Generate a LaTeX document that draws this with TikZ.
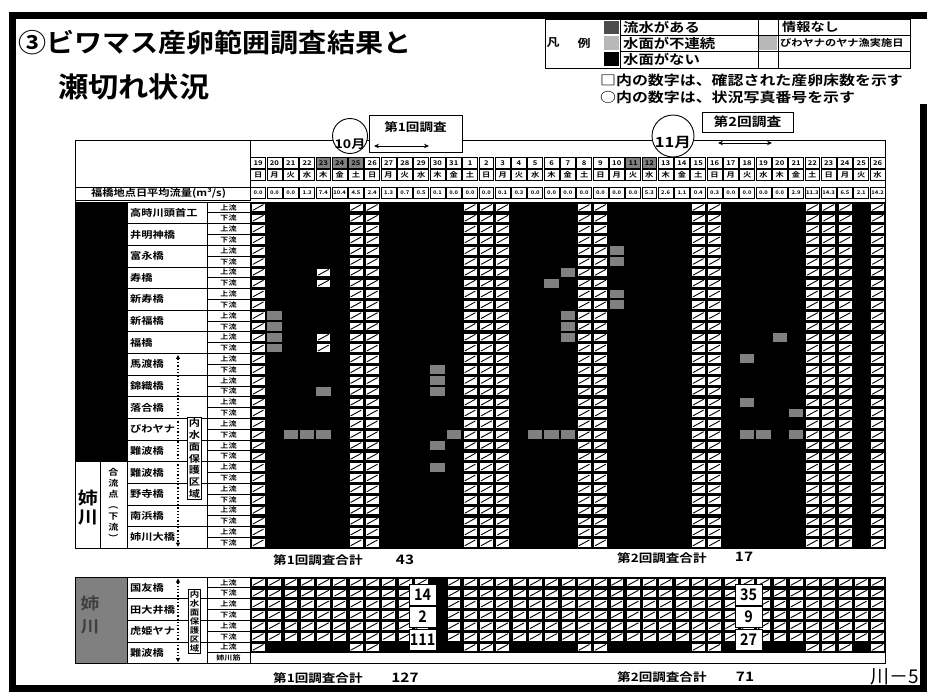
\documentclass[tikz,border=0pt]{standalone}
\usepackage{fontspec}
\setmainfont{Noto Sans CJK JP}[BoldFont={Noto Sans CJK JP Bold}, FakeStretch=1.18]
\newfontfamily\ttlfont{Noto Sans CJK JP Bold}[FakeStretch=1.08]
\newfontfamily\numfont{Noto Sans CJK JP Bold}[FakeStretch=0.9]
\newfontfamily\thinfont{Noto Sans CJK JP}
\usetikzlibrary{arrows.meta}

\definecolor{stip}{gray}{0.5}
\definecolor{stipdark}{gray}{0.3}
\definecolor{stiplight}{gray}{0.72}

\newcommand{\fsz}[1]{\bfseries\fontsize{#1}{#1}\selectfont}

% day columns and station rows
\def\colx{250}
\def\colw{16.3}
\def\colend{885.7}
\def\rowh{10.82}
\def\topA{202}
\def\topB{577}

\tikzset{
  rule/.style={draw=black, line width=0.8pt},
  hatchbox/.style={fill=white, draw=black, line width=0.6pt},
  hatchline/.style={line width=0.9pt, line cap=round},
  hdrcell/.style={draw=black, line width=0.7pt},
  ttl/.style={inner sep=0pt, anchor=west, font=\ttlfont\fontsize{26}{26}\selectfont},
  lgd/.style={inner sep=0pt, anchor=west, font=\fsz{13}},
  stn/.style={inner sep=0pt, anchor=west, font=\fsz{9.5}},
  updn/.style={inner sep=0pt, font=\fsz{6.8}},
  daynum/.style={inner sep=0pt, font=\fsz{6.5}},
  wkday/.style={inner sep=0pt, font=\fsz{7}},
  flowval/.style={inner sep=0pt, font=\fsz{5}},
  total/.style={inner sep=0pt, anchor=west, font=\fsz{11.5}},
  totnum/.style={inner sep=0pt, font=\fsz{13}},
  month/.style={circle, draw=black, fill=white, line width=0.9pt, inner sep=0pt},
  survey/.style={inner sep=0pt, font=\fsz{11.5}},
  numbox/.style={draw=black, fill=white, line width=0.8pt, inner sep=0pt,
    minimum width=27pt, minimum height=21pt, font=\numfont\fontsize{16}{16}\selectfont},
  zone/.style={dotted, line width=1.3pt,
    {Triangle[length=4pt,width=4pt]}-{Triangle[length=4pt,width=4pt]}},
  zonebox/.style={draw=black, fill=white, line width=0.8pt, inner sep=1.2pt, align=center},
  span/.style={line width=1pt,
    {Stealth[length=5pt,width=4.5pt]}-{Stealth[length=5pt,width=4.5pt]}},
}

% cell with no information (column, row, top of table)
\newcommand{\hcell}[3]{%
  \pgfmathsetmacro\hcx{\colx+#1*\colw}%
  \pgfmathsetmacro\hcy{#3+#2*\rowh}%
  \draw[hatchbox] (\hcx+1.2,\hcy+1.1) rectangle (\hcx+\colw-1.2,\hcy+\rowh-1.1);
  \draw[hatchline] (\hcx+3,\hcy+\rowh-2.6) -- (\hcx+\colw-3,\hcy+2.6);
}
% cell with broken water surface
\newcommand{\scell}[3]{%
  \pgfmathsetmacro\hcx{\colx+#1*\colw}%
  \pgfmathsetmacro\hcy{#3+#2*\rowh}%
  \fill[stip] (\hcx+1,\hcy+1) rectangle (\hcx+\colw-1,\hcy+\rowh-1);
}

\begin{document}
\begin{tikzpicture}[x=1pt,y=-1pt]
  \useasboundingbox (0,0) rectangle (927,693);

  % Frame
  \draw[line width=7pt, line join=miter] (923,104) -- (923,688) -- (12,688) -- (12,16) -- (927,16);

  % Title
  \node[ttl] (title1) at (18,43) {③ビワマス産卵範囲調査結果と};
  \node[ttl, font=\ttlfont\fontsize{28}{28}\selectfont] (title2) at (58,87) {瀬切れ状況};

  % Legend
  \draw[rule] (545,19) rectangle (910,68);
  \draw[rule] (620,19) -- (620,68) (758,19) -- (758,68) (778,19) -- (778,68);
  \draw[rule] (620,35) -- (910,35) (620,51.5) -- (910,51.5);
  \fill[stipdark] (604,21) rectangle (619,34);
  \fill[stiplight] (604,36) rectangle (619,50.5);
  \fill[black] (604,52.5) rectangle (619,66);
  \fill[stiplight] (759,36) rectangle (777,50.5);
  \node[inner sep=0pt, font=\fsz{11}] (lgA) at (553,43) {凡};
  \node[inner sep=0pt, font=\fsz{11}] (lgB) at (584,43) {例};
  \node[lgd] (lg1) at (623,27) {流水がある};
  \node[lgd] (lg2) at (623,43.2) {水面が不連続};
  \node[lgd] (lg3) at (623,59.7) {水面がない};
  \node[lgd, font=\fsz{12}] (lg4) at (782,27) {情報なし};
  \node[lgd, font=\fsz{9.5}] (lg5) at (780,43.2) {びわヤナのヤナ漁実施日};
  \node[lgd, font=\fsz{13.5}] (note1) at (600,80) {□内の数字は、確認された産卵床数を示す};
  \node[lgd, font=\fsz{13.5}] (note2) at (600,97) {○内の数字は、状況写真番号を示す};

  % Table frame and left header
  \draw[rule] (75,140) rectangle (\colend,\topA+32*\rowh);
  \draw[rule] (75,140) rectangle (\colx,187);
  \draw[rule] (75,187) rectangle (\colx,200);
  \node[inner sep=0pt, anchor=west, font=\fsz{9.5}] (qlabel) at (91,193.5) {福橋地点日平均流量(m³/s)};

  % Day header: dates, weekdays, flow at Fukuhashi
  \foreach \c in {4,5,6,23,24}{
    \fill[stip] ({\colx+\c*\colw+0.7},157.5) rectangle +(14.9,11);
  }
  \foreach \d [count=\i from 0] in {19,20,21,22,23,24,25,26,27,28,29,30,31,1,2,3,4,5,6,7,8,9,10,11,12,13,14,15,16,17,18,19,20,21,22,23,24,25,26}{
    \pgfmathsetmacro\mx{\colx+(\i+0.5)*\colw}
    \draw[hdrcell] ({\mx-7.45},157.5) rectangle +(14.9,11);
    \node[daynum] (d\i) at (\mx,163) {\d};
  }
  \foreach \w [count=\i from 0] in {日,月,火,水,木,金,土,日,月,火,水,木,金,土,日,月,火,水,木,金,土,日,月,火,水,木,金,土,日,月,火,水,木,金,土,日,月,火,水}{
    \pgfmathsetmacro\mx{\colx+(\i+0.5)*\colw}
    \draw[hdrcell] ({\mx-7.45},169.5) rectangle +(14.9,11);
    \node[wkday] (w\i) at (\mx,175) {\w};
  }
  \foreach \q [count=\i from 0] in {0.0,0.0,0.0,1.3,7.4,10.4,4.5,2.4,1.3,0.7,0.5,0.1,0.0,0.0,0.0,0.1,0.3,0.0,0.0,0.0,0.0,0.0,0.0,0.0,5.3,2.6,1.1,0.4,0.3,0.0,0.0,0.0,0.0,2.9,11.3,14.3,6.5,2.1,14.2}{
    \pgfmathsetmacro\mx{\colx+(\i+0.5)*\colw}
    \draw[hdrcell] ({\mx-7.45},187.5) rectangle +(14.9,11);
    \node[flowval] (q\i) at (\mx,193) {\q};
  }

  % Survey periods
  \node[draw=black, fill=white, line width=0.8pt, minimum width=93pt, minimum height=37pt, inner sep=0pt] (sv1box) at (415.5,133.5) {};
  \node[survey] (sv1) at (415.5,127) {第1回調査};
  \coordinate (sv1a) at (374,146);
  \coordinate (sv1b) at (429,146);
  \draw[span] (sv1a) -- (sv1b);
  \node[draw=black, fill=white, line width=0.8pt, minimum width=91pt, minimum height=20pt, inner sep=0pt] (sv2box) at (747.5,122) {};
  \node[survey, font=\fsz{12.5}] (sv2) at (747.5,122) {第2回調査};
  \coordinate (sv2a) at (718,143);
  \coordinate (sv2b) at (772,143);
  \draw[span] (sv2a) -- (sv2b);

  % Months
  \node[month, minimum size=35pt] (m10) at (350,136) {};
  \node[inner sep=0pt, font=\fsz{12}] (m10t) at (350,144) {10月};
  \node[month, minimum size=42pt] (m11) at (673,136) {};
  \node[inner sep=0pt, font=\fsz{14}] (m11t) at (673,143) {11月};

  % Main table: flowing water, then days with no information
  \fill (\colx,\topA) rectangle (\colend,\topA+32*\rowh);
  \foreach \c in {0,6,7,13,14,15,20,21,27,28,34,35,36,38}{
    \foreach \r in {0,...,31}{\hcell{\c}{\r}{\topA}}
  }
  \foreach \c/\r in {4/6,4/7,4/12,4/13}{\hcell{\c}{\r}{\topA}}

  % Broken water surface
  \foreach \c/\r in {1/10,1/11,1/12,1/13,19/6,18/7,19/10,19/11,19/12,22/4,22/5,22/8,22/9,
                     32/12,30/14,4/17,2/21,3/21,4/21,11/15,11/16,11/17,12/21,11/22,11/24,
                     17/21,18/21,19/21,30/18,33/19,30/21,31/21,33/21}{\scell{\c}{\r}{\topA}}

  % Stations, main table
  \fill (75,\topA) rectangle (127,\topA+24*\rowh);
  \draw[rule] (75,\topA+24*\rowh) rectangle (100,\topA+32*\rowh);
  \draw[rule] (100,\topA+24*\rowh) rectangle (127,\topA+32*\rowh);
  \node[inner sep=0pt, font=\fsz{17}] (ane1) at (88,498) {姉};
  \node[inner sep=0pt, font=\fsz{17}] (ane2) at (88,518) {川};
  \node[inner sep=0pt, font=\bfseries\fontsize{8.5}{11}\selectfont, align=center] (goryu) at (113.5,505) {合\\流\\点\\︵\\下\\流\\︶};
  \foreach \n [count=\i from 0] in {高時川頭首工,井明神橋,富永橋,寿橋,新寿橋,新福橋,福橋,馬渡橋,錦織橋,落合橋,びわヤナ,難波橋,難波橋,野寺橋,南浜橋,姉川大橋}{
    \pgfmathsetmacro\sy{\topA+2*\i*\rowh}
    \draw[rule] (127,\sy) rectangle (207,\sy+2*\rowh);
    \draw[rule] (207,\sy) rectangle (\colx,\sy+\rowh);
    \draw[rule] (207,\sy+\rowh) rectangle (\colx,\sy+2*\rowh);
    \node[stn] (st\i) at (130,\sy+\rowh) {\n};
    \node[updn] (up\i) at (228.5,\sy+0.5*\rowh) {上流};
    \node[updn] (dn\i) at (228.5,\sy+1.5*\rowh) {下流};
  }
  \coordinate (zoneAtop) at (178,\topA+14*\rowh+1.5);
  \coordinate (zoneAbot) at (178,\topA+32*\rowh-1.5);
  \draw[zone] (zoneAtop) -- (zoneAbot);
  \node[zonebox, font=\bfseries\fontsize{9.5}{11.8}\selectfont] (zoneA) at (194.5,458.5) {内\\水\\面\\保\\護\\区\\域};

  % Totals, first table
  \node[total] (sum1a) at (273,560) {第1回調査合計};
  \node[totnum] (sum1an) at (405,560) {43};
  \node[total] (sum2a) at (617,558) {第2回調査合計};
  \node[totnum] (sum2an) at (744,557) {17};

  % Lower table
  \fill[stip] (75,\topB) rectangle (127,\topB+8*\rowh);
  \node[inner sep=0pt, font=\fsz{16}, text=black!75] (ane3) at (90,603) {姉};
  \node[inner sep=0pt, font=\fsz{16}, text=black!75] (ane4) at (90,627) {川};
  \fill (\colx,\topB) rectangle (\colend,\topB+7*\rowh);
  \foreach \c in {0,...,38}{
    \ifnum\c=11\else
      \foreach \r in {0,...,5}{\hcell{\c}{\r}{\topB}}
    \fi
  }
  \foreach \c in {0,6,7,13,14,15,20,21,27,28,34,35,36,38}{\hcell{\c}{6}{\topB}}
  \draw[rule, fill=white] (\colx,\topB+7*\rowh) rectangle (\colend,\topB+8*\rowh);
  \draw[rule] (75,\topB) rectangle (\colend,\topB+8*\rowh);
  \foreach \n [count=\i from 0] in {国友橋,田大井橋,虎姫ヤナ,難波橋}{
    \pgfmathsetmacro\sy{\topB+2*\i*\rowh}
    \draw[rule] (127,\sy) rectangle (207,\sy+2*\rowh);
    \node[stn] (lst\i) at (130,\sy+\rowh) {\n};
  }
  \foreach \u [count=\r from 0] in {上流,下流,上流,下流,上流,下流,上流,姉川筋}{
    \pgfmathsetmacro\sy{\topB+\r*\rowh}
    \draw[rule] (207,\sy) rectangle (\colx,\sy+\rowh);
    \node[updn] (lud\r) at (228.5,\sy+0.5*\rowh) {\u};
  }
  \coordinate (zoneBtop) at (178,\topB+1.5);
  \coordinate (zoneBbot) at (178,\topB+8*\rowh-1.5);
  \draw[zone] (zoneBtop) -- (zoneBbot);
  \node[zonebox, font=\bfseries\fontsize{8}{9}\selectfont] (zoneB) at (194.5,621.5) {内\\水\\面\\保\\護\\区\\域};

  % Spawning beds counted
  \node[numbox] (nb1) at (422.5,595) {14};
  \node[numbox] (nb2) at (422.5,617) {2};
  \node[numbox] (nb3) at (422.5,640) {111};
  \node[numbox] (nb4) at (748.5,595) {35};
  \node[numbox] (nb5) at (748.5,617) {9};
  \node[numbox] (nb6) at (748.5,640) {27};

  % Totals, lower table
  \node[total] (sum1b) at (273,678) {第1回調査合計};
  \node[totnum] (sum1bn) at (405,678) {127};
  \node[total] (sum2b) at (617,677) {第2回調査合計};
  \node[totnum] (sum2bn) at (745,677) {71};

  % Page
  \node[inner sep=0pt, anchor=east, font=\thinfont\fontsize{19}{19}\selectfont] (page) at (919,677) {川－5};
\end{tikzpicture}
\end{document}
